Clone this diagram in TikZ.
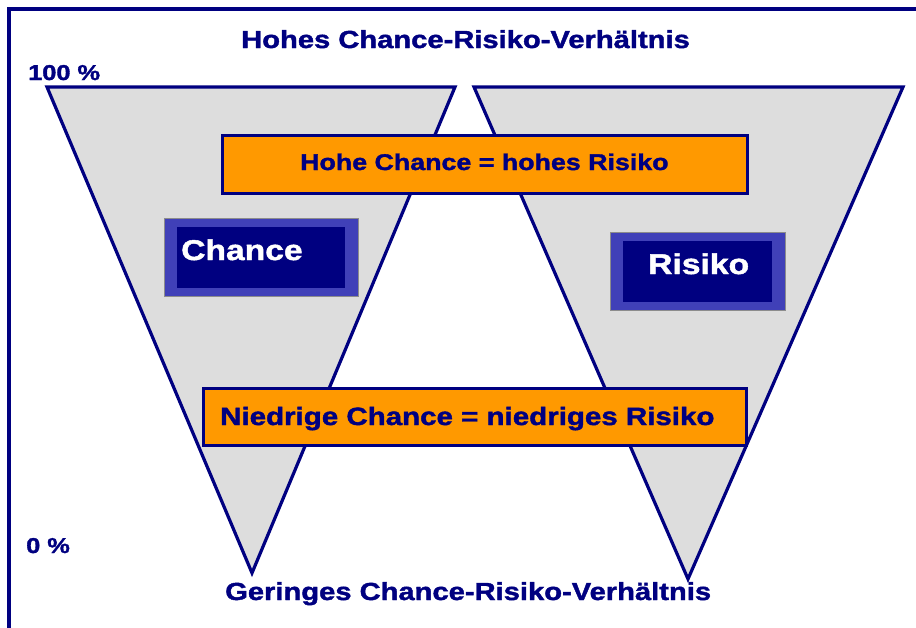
\documentclass[tikz,border=0pt]{standalone}
\usepackage{fontspec}
\setmainfont{Liberation Sans}[FakeStretch=1.18, BoldFeatures={FakeBold=1.6}]
\definecolor{navy}{HTML}{000080}
\definecolor{midblue}{HTML}{4040B8}
\definecolor{trigray}{HTML}{DDDDDD}
\definecolor{boxorange}{HTML}{FF9900}
\definecolor{bordergray}{HTML}{8C8C8C}
\begin{document}
\begin{tikzpicture}[x=1pt,y=-1pt,
  tri/.style={draw=navy, fill=trigray, line width=3.2pt, line join=miter},
  obox/.style={draw=navy, fill=boxorange, line width=3pt, inner sep=0pt},
  outerbox/.style={draw=bordergray, fill=midblue, line width=1pt, inner sep=0pt},
  innerbox/.style={fill=navy, inner sep=0pt},
  lbl/.style={anchor=base west, inner sep=0pt, text=navy, font=\bfseries\fontsize{#1}{#1}\selectfont},
  wlbl/.style={anchor=base west, inner sep=0pt, text=white, font=\bfseries\fontsize{#1}{#1}\selectfont}]
\useasboundingbox (0,0) rectangle (916,627);
\begin{scope}
\clip (0,0) rectangle (916,627);
\draw[navy, line width=4pt] (9,9) rectangle (940,660);
\end{scope}
% triangles
\draw[tri] (47,87) -- (455,87) -- (252,573) -- cycle;
\draw[tri] (474,87) -- (903,87) -- (688,579) -- cycle;
% titles
\node[lbl=24.7] (top) at (241,48) {Hohes Chance-Risiko-Verhältnis};
\node[lbl=24.7] (bot) at (225,600) {Geringes Chance-Risiko-Verhältnis};
\node[lbl=21.5] (p100) at (28,80) {100 \%};
\node[lbl=21.5] (p0) at (26,553) {0 \%};
% orange boxes
\node[obox, minimum width=525pt, minimum height=58pt] (hoch) at (484.5,164.5) {};
\node[lbl=22.7] (hochtxt) at (300,170) {Hohe Chance = hohes Risiko};
\node[obox, minimum width=543pt, minimum height=57pt] (nied) at (474.5,416.5) {};
\node[lbl=25] (niedtxt) at (220,425) {Niedrige Chance = niedriges Risiko};
% Chance box
\node[outerbox, minimum width=194pt, minimum height=78pt] (chanceo) at (261,257) {};
\node[innerbox, minimum width=168pt, minimum height=61pt] (chancei) at (261,257.5) {};
\node[wlbl=28.5] (chancetxt) at (181,260) {Chance};
% Risiko box
\node[outerbox, minimum width=175pt, minimum height=78pt] (risikoo) at (697.5,271) {};
\node[innerbox, minimum width=149pt, minimum height=61pt] (risikoi) at (697.5,271.5) {};
\node[wlbl=28.5] (risikotxt) at (648,274) {Risiko};
\end{tikzpicture}
\end{document}
